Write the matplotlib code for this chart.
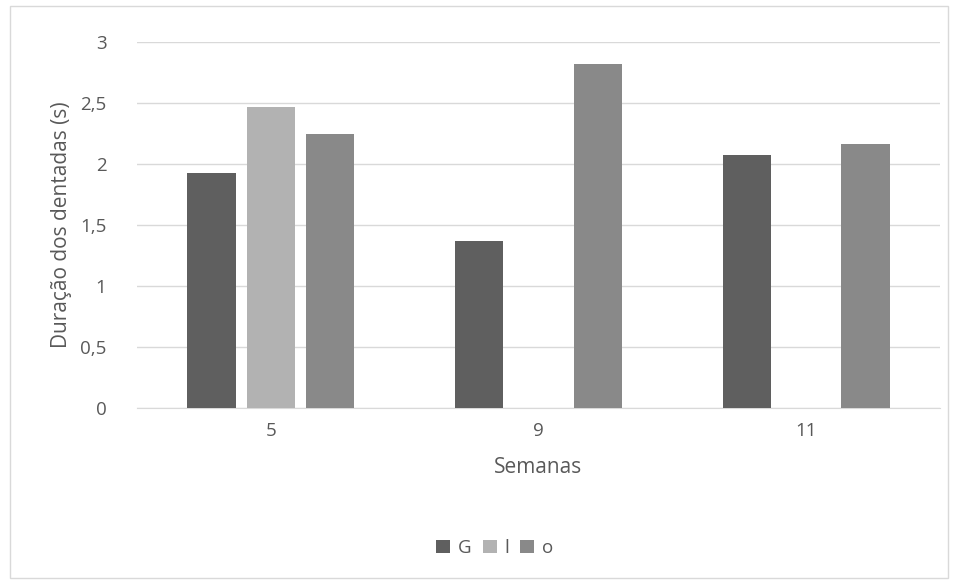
import numpy as np
import matplotlib.pyplot as plt
from matplotlib.patches import Rectangle

semanas = ["5", "9", "11"]
series = ["G", "l", "o"]
g_vals = [1.93, 1.37, 2.07]
l_vals = [2.47, 0, 0]
o_vals = [2.25, 2.82, 2.16]
cores = ["#5f5f5f", "#b2b2b2", "#898989"]

plt.rcParams['font.family'] = ['Open Sans', 'DejaVu Sans']

fig = plt.figure(figsize=(9.57, 5.81), dpi=100)
ax = fig.add_axes([137/957, 1 - 408/581, (940-137)/957, (408-42)/581])

x = np.arange(len(semanas))
w = 0.18
passo = 0.222
for i, (nome, vals) in enumerate(zip(series, [g_vals, l_vals, o_vals])):
    ax.bar(x + (i - 1)*passo, vals, width=w, color=cores[i], label=nome, zorder=3)

ax.set_xlim(-0.5, 2.5)
ax.set_ylim(0, 3)
ax.set_yticks(np.arange(0, 3.01, 0.5))
ax.set_yticklabels([f"{v:g}".replace(".", ",") for v in np.arange(0, 3.01, 0.5)])
ax.set_xticks(x)
ax.set_xticklabels(semanas)
ax.tick_params(length=0, labelsize=13.5, colors="#595959", pad=10)
ax.tick_params(axis='y', pad=22)
ax.grid(axis='y', color="#d9d9d9", lw=1, zorder=0)
for s in ["top", "right", "left"]:
    ax.spines[s].set_visible(False)
ax.spines["bottom"].set_color("#d9d9d9")

ax.set_xlabel("Semanas", fontsize=15, color="#595959", labelpad=12)
ax.set_ylabel("Duração dos dentadas (s)", fontsize=15, color="#595959", labelpad=6)

fig.legend(loc="center", bbox_to_anchor=(0.517, 1 - 548/581), ncol=3, frameon=False,
           fontsize=13.5, handlelength=0.75, handleheight=0.75, handletextpad=0.4,
           columnspacing=0.6, labelcolor="#595959")

fig.patches.append(Rectangle((10/957, 3/581), 938/957, 572/581, transform=fig.transFigure,
                             fill=False, edgecolor="#d9d9d9", lw=1))

plt.savefig("out.png", dpi=100)
